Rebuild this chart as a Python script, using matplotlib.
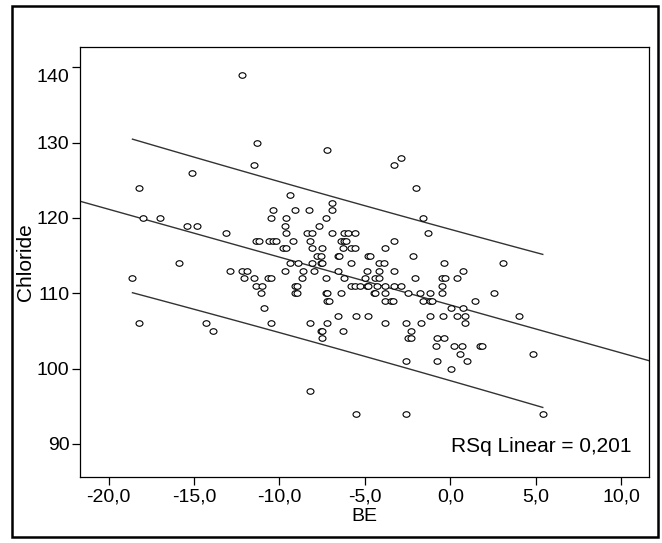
import numpy as np
import matplotlib
matplotlib.use("Agg")
import matplotlib.pyplot as plt
import matplotlib.transforms as mtransforms
from matplotlib.path import Path
from matplotlib.patches import Rectangle

# Data: one line per chloride level
be = [
    -12.2,                                   # 139
    -11.3,                                   # 130
    -7.2,                                    # 129
    -2.9,                                    # 128
    -11.5, -3.3,                             # 127
    -15.1,                                   # 126
    -18.2, -2.0,                             # 124
    -9.4,                                    # 123
    -6.9,                                    # 122
    -10.4, -9.1, -8.3, -6.9,                 # 121
    -18.0, -17.0, -10.5, -9.6, -7.3, -1.6,   # 120
    -15.4, -14.8, -9.7, -7.7,                # 119
    -13.1, -9.6, -8.4, -8.1, -6.9, -6.2, -6.0, -5.6, -1.3,               # 118
    -11.4, -11.2, -10.6, -10.4, -10.2, -9.2, -8.2, -6.4, -6.2, -6.1, -3.3,  # 117
    -9.8, -9.6, -8.1, -7.5, -6.3, -5.8, -5.6, -3.8,                      # 116
    -7.8, -7.6, -6.6, -6.5, -4.8, -4.7, -2.2,                            # 115
    -15.9, -9.4, -8.9, -8.1, -7.6, -7.5, -5.8, -4.2, -3.9, -0.4, 3.05,   # 114
    -12.9, -12.2, -11.9, -9.7, -8.6, -8.0, -6.6, -4.9, -4.2, -3.3, 0.75, # 113
    -18.6, -12.1, -11.5, -10.7, -10.5, -8.7, -7.3, -6.2, -5.0, -4.4, -4.2,
    -2.1, -0.5, -0.3, 0.4,                                               # 112
    -11.4, -11.0, -9.1, -9.0, -5.8, -5.6, -5.3, -4.9, -4.8, -4.3, -3.8,
    -3.3, -2.9, -0.5,                                                    # 111
    -11.1, -9.1, -9.0, -7.3, -7.2, -6.4, -4.5, -4.4, -3.8, -2.5, -1.8,
    -1.2, -0.5, 2.55,                                                    # 110
    -7.2, -7.1, -3.8, -3.5, -3.35, -1.6, -1.2, -1.05, 1.45,              # 109
    -10.9, 0.05, 0.75,                                                   # 108
    -6.6, -5.5, -4.8, -1.2, -0.45, 0.4, 0.85, 4.0,                       # 107
    -18.2, -14.3, -10.5, -8.2, -7.2, -3.8, -2.6, -1.75, 0.85,            # 106
    -13.9, -7.6, -7.5, -6.3, -2.3,                                       # 105
    -7.5, -2.5, -2.3, -0.8, -0.35,                                       # 104
    -0.85, 0.2, 0.65, 1.75, 1.85,                                        # 103
    0.55, 4.85,                                                          # 102
    -2.6, -0.8, 0.95,                                                    # 101
    0.05,                                                                # 100
    -8.2,                                                                # 97
    -5.5, -2.6, 5.4,                                                     # 94
]
chloride_levels = [139, 130, 129, 128, 127, 126, 124, 123, 122, 121, 120, 119,
                   118, 117, 116, 115, 114, 113, 112, 111, 110, 109, 108, 107,
                   106, 105, 104, 103, 102, 101, 100, 97, 94]
level_counts = [1, 1, 1, 1, 2, 1, 2, 1, 1, 4, 6, 4,
                9, 11, 8, 7, 11, 11, 15, 14, 14, 9, 3, 8,
                9, 5, 5, 5, 2, 3, 1, 1, 3]
rsq_shown = 0.201

x_ticks = [-20, -15, -10, -5, 0, 5, 10]
y_ticks = [90, 100, 110, 120, 130, 140]

plt.rcParams["font.family"] = ["Liberation Sans", "DejaVu Sans"]
fs = 14

be = np.array(be)
chloride = np.repeat(chloride_levels, level_counts).astype(float)

# linear fit and prediction band
n = len(be)
slope, intercept = np.polyfit(be, chloride, 1)
resid = chloride - (intercept + slope * be)
s = np.sqrt(np.sum(resid ** 2) / (n - 2))
sxx = np.sum((be - be.mean()) ** 2)
t_val = 1.653

fig = plt.figure(figsize=(6.62, 5.43), dpi=100)
ax = fig.add_axes([0.1216, 0.1215, 0.8584, 0.7919])

xlim = (-21.64, 11.6)
ax.set_xlim(xlim)
ax.set_ylim(85.6, 142.7)

circ = Path.unit_circle()
ellipse = Path(circ.vertices * [1.0, 0.8], circ.codes)
ax.plot(be, chloride, linestyle="none", marker=ellipse, markersize=5,
        markerfacecolor="white", markeredgecolor="black", markeredgewidth=0.8,
        zorder=3)

xf = np.linspace(xlim[0], xlim[1], 100)
ax.plot(xf, intercept + slope * xf, color="#333333", lw=1.0, zorder=2)

xp = np.linspace(be.min(), be.max(), 100)
half = t_val * s * np.sqrt(1 + 1 / n + (xp - be.mean()) ** 2 / sxx)
ax.plot(xp, intercept + slope * xp + half, color="#333333", lw=1.0, zorder=2)
ax.plot(xp, intercept + slope * xp - half, color="#333333", lw=1.0, zorder=2)

ax.set_xticks(x_ticks)
ax.set_xticklabels([f"{v:.1f}".replace(".", ",") for v in x_ticks])
ax.set_yticks(y_ticks)
ax.set_yticklabels([str(v) for v in y_ticks])
ax.tick_params(direction="out", length=6, width=0.9, labelsize=fs, pad=2,
               color="black")
for sp in ax.spines.values():
    sp.set_linewidth(0.9)

# SPSS pushes the top label down a bit
lab = ax.get_yticklabels()[-1]
lab.set_transform(lab.get_transform() +
                  mtransforms.ScaledTranslation(0, -6 / 72, fig.dpi_scale_trans))

ax.set_xlabel("BE", fontsize=fs, labelpad=2)
ax.set_ylabel("Chloride", fontsize=15, labelpad=1)

ax.text(0.97, 0.05, f"RSq Linear = {rsq_shown:.3f}".replace(".", ","),
        transform=ax.transAxes, ha="right", va="bottom", fontsize=15)

fig.patches.append(Rectangle((12 / 662, 6 / 543), 646 / 662, 531 / 543,
                             transform=fig.transFigure, fill=False,
                             edgecolor="black", lw=1.8))

fig.savefig("out.png", dpi=100)
